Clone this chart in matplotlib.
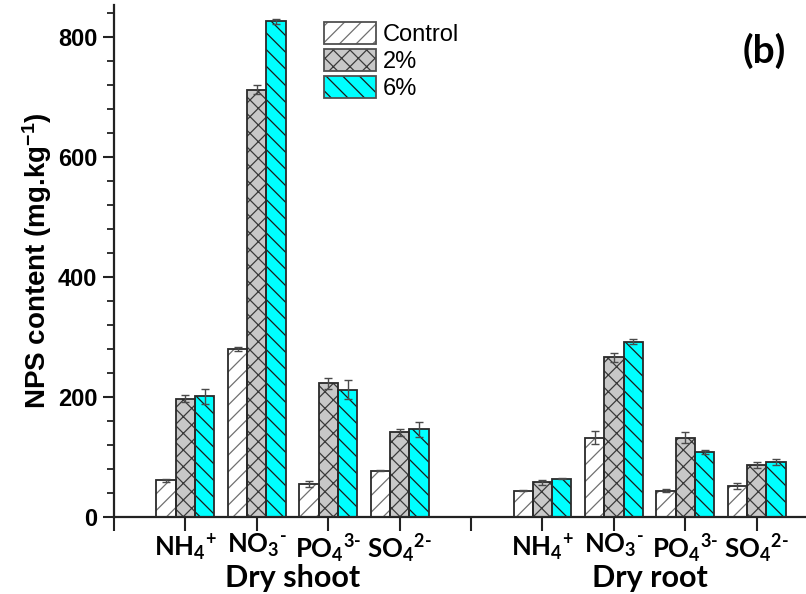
import numpy as np
import matplotlib
matplotlib.use("Agg")
import matplotlib.pyplot as plt
from matplotlib.patches import Patch
from matplotlib.legend_handler import HandlerTuple

plt.rcParams['mathtext.fontset'] = 'custom'
plt.rcParams['mathtext.rm'] = 'Lato:bold'
plt.rcParams['mathtext.bf'] = 'Lato:bold'
plt.rcParams['mathtext.it'] = 'Lato:bold'
plt.rcParams['mathtext.sf'] = 'Liberation Sans:bold'
plt.rcParams['hatch.linewidth'] = 0.9

#-- data (mg/kg), two tissues x four ions x three treatments
ions = [r'NH$_4$$^{+}$', r'NO$_3$$^{\text{-}}$',
        r'PO$_4$$^{3\text{-}}$', r'SO$_4$$^{2\text{-}}$']
groups = ['Dry shoot', 'Dry root']
treatments = ['Control', '2%', '6%']

shoot_ctrl = [61, 280, 55, 77]
shoot_2 = [197, 712, 223, 141]
shoot_6 = [201, 826, 212, 146]
root_ctrl = [44, 132, 44, 52]
root_2 = [58, 266, 132, 86]
root_6 = [64, 292, 108, 92]

shoot_ctrl_err = [2, 4, 5, 1]
shoot_2_err = [6, 8, 9, 6]
shoot_6_err = [13, 4, 16, 12]
root_ctrl_err = [1, 11, 3, 5]
root_2_err = [4, 7, 9, 5]
root_6_err = [1, 4, 3, 5]

# category positions: 1-4 shoot, 6-9 root
pos = np.array([1, 2, 3, 4, 6, 7, 8, 9])
vals = [shoot_ctrl + root_ctrl, shoot_2 + root_2, shoot_6 + root_6]
errs = [shoot_ctrl_err + root_ctrl_err, shoot_2_err + root_2_err,
        shoot_6_err + root_6_err]

fills = ['white', '#c8c8c8', '#00ffff']
hatch_cols = ['#707070', '#3a3a3a', '#1a1a1a']
hatches = ['//', 'xx', '\\\\']
edge = '#2a2a2a'
w = 0.27

fig = plt.figure(figsize=(8.06, 5.94), dpi=100)
ax = fig.add_axes([0.1414, 0.1296, 0.8586, 0.862])

handles = []
for k in range(3):
    xk = pos + (k - 1) * w
    # hatched fill first, then a dark outline on top
    ax.bar(xk, vals[k], w, color=fills[k], edgecolor=hatch_cols[k],
           hatch=hatches[k], linewidth=0, zorder=2)
    ax.bar(xk, vals[k], w, fill=False, edgecolor=edge, linewidth=1.3, zorder=3)
    ax.errorbar(xk, vals[k], yerr=errs[k], fmt='none', ecolor='#4a4a4a',
                elinewidth=1, capsize=3, capthick=1, zorder=4)
    h1 = Patch(facecolor=fills[k], edgecolor=hatch_cols[k], hatch=hatches[k], linewidth=0)
    h2 = Patch(fill=False, edgecolor='#505050', linewidth=1.3)
    handles.append((h1, h2))

ax.set_xlim(0, 9.69)
ax.set_ylim(0, 853)

for s in ['top', 'right']:
    ax.spines[s].set_visible(False)
for s in ['left', 'bottom']:
    ax.spines[s].set_linewidth(1.6)
    ax.spines[s].set_color('#222222')

ax.set_yticks(np.arange(0, 801, 200))
ax.set_yticks(np.arange(0, 841, 40), minor=True)
ax.tick_params(axis='y', which='major', direction='out', length=8, width=1.5,
               color='#222222', pad=4)
ax.tick_params(axis='y', which='minor', direction='out', length=5, width=1.3,
               color='#222222')
for lab in ax.get_yticklabels():
    lab.set_fontfamily('Liberation Sans')
    lab.set_fontweight('bold')
    lab.set_fontsize(17)

ax.set_xticks(range(10))
ax.set_xticklabels([''] + ions + [''] + ions, fontsize=18.5,
                   fontfamily='Lato', fontweight='bold')
ax.tick_params(axis='x', direction='out', length=10, width=1.5,
               color='#222222', pad=1)

ax.set_ylabel(r'NPS content (mg.kg$\mathsf{^{-1}}$)', fontsize=20,
              fontfamily='Liberation Sans', fontweight='bold', labelpad=3)

for gx, g in zip([2.5, 7.5], groups):
    ax.text(gx, -0.119, g, transform=ax.get_xaxis_transform(), ha='center',
            va='center', fontsize=22, fontfamily='Lato', fontweight='bold')

ax.text(0.94, 0.91, '(b)', transform=ax.transAxes, ha='center', va='center',
        fontsize=28, fontfamily='Lato', fontweight='bold')

leg = ax.legend(handles, treatments, handler_map={tuple: HandlerTuple(ndivide=1, pad=0)},
                loc='upper left', bbox_to_anchor=(0.29, 0.985), frameon=False,
                prop={'family': 'Liberation Sans', 'size': 17},
                handlelength=2.2, handleheight=1.05, labelspacing=0.12,
                handletextpad=0.3, borderaxespad=0)

fig.savefig('out.png', dpi=100)
